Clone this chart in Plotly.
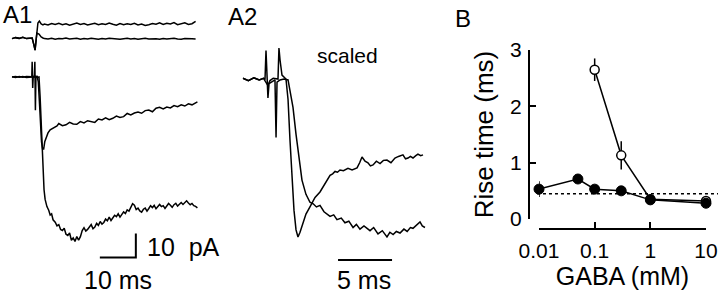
import plotly.graph_objects as go

W, H = 720, 298
FONT = "Liberation Sans, Arial, Helvetica, sans-serif"

# ---------------- Panel A1 (ms, pA) ----------------
a1_top_up_t = [0, 1, 2, 3, 4, 5, 5.6, 6.1, 6.4, 6.7, 6.9, 7.2, 7.6, 8.1, 8.6,
               9, 10, 11, 12, 13, 14, 15, 16, 17, 18, 19, 20, 21, 22, 23, 24, 25, 26, 27, 28, 29, 30,
               31, 32, 33, 34, 35, 36, 37, 38, 39, 40, 41, 42, 43, 44, 45, 46, 47, 48, 49, 50, 51]
a1_top_up_i = [16.0, 16.4, 16.1, 16.5, 16.0, 16.3, 16.2, 13.3, 11.2, 15.4, 19.6, 22.5, 23.3, 22.1, 21.7,
               22.1, 21.7, 22.3, 21.9, 22.4, 21.8, 22.2, 21.6, 22.0, 22.5, 21.9, 22.3, 21.7, 22.1, 22.4, 21.8,
               22.2, 21.9, 22.5, 22.0, 21.6, 22.3, 21.8, 22.2, 21.9, 22.4, 21.7, 22.1, 21.5, 21.8, 22.3, 22.0,
               22.6, 21.9, 22.4, 22.1, 22.7, 21.8, 22.3, 22.6, 21.9, 22.2, 23.2]
a1_top_lo_t = [0, 1, 2, 3, 4, 5, 5.6, 6.1, 6.4, 6.7, 6.9, 7.5, 8.1, 8.6,
               9, 10, 11, 12, 13, 14, 15, 16, 17, 18, 19, 20, 21, 22, 23, 24, 25, 26, 27, 28, 29, 30,
               31, 32, 33, 34, 35, 36, 37, 38, 39, 40, 41, 42, 43, 44, 45, 46, 47, 48, 49, 50, 51]
a1_top_lo_i = [16.0, 16.4, 16.1, 16.5, 16.0, 16.3, 16.2, 13.3, 11.2, 15.4, 18.3, 17.9, 16.7, 16.25,
               16.0, 15.8, 16.1, 15.7, 16.0, 15.9, 16.2, 15.8, 15.9, 16.1, 15.7, 16.0, 15.8, 16.1, 15.9,
               15.7, 16.0, 15.8, 16.1, 15.9, 16.0, 15.7, 15.9, 16.1, 15.8, 16.0, 15.7, 15.9, 16.1, 15.8,
               16.0, 15.9, 15.7, 16.0, 15.8, 15.9, 16.1, 15.8, 15.7, 16.0, 15.8, 15.9, 15.8]

a1_fast_t = [0, 1, 2, 3, 4, 5, 5.5, 5.6, 5.75, 5.9, 6.5, 7.0, 7.3, 7.6, 7.9, 8.2, 8.5, 8.8, 9.1, 9.5,
             10.0, 10.6, 11.4, 12.5, 13, 14, 15, 16, 17, 18, 19, 20, 21, 22, 23, 24, 25, 26, 27, 28,
             29, 30, 31, 32, 33, 34, 35, 36, 37, 38, 39, 40, 41, 42, 43, 44, 45, 46, 47, 48, 49, 50, 51, 51.5]
a1_fast_i = [0.1, -0.2, 0.2, -0.1, 0.2, 0.0, 0.1, 6.3, -4.6, 0.3, 0.0, 0.2, -2, -10, -20, -27, -30, -30,
             -27, -25, -23.3, -22, -21.3, -20.4,
             -19.4, -20.3, -19.9, -18.9, -19.6, -19.7, -18.6, -19.1, -18.2, -18.6, -18.9, -17.5, -17.9,
             -17.0, -17.8, -17.2, -16.3, -16.9, -16.5, -15.2, -15.8, -15.0, -14.6, -15.1, -14.0, -13.8,
             -14.5, -13.0, -12.6, -13.3, -12.5, -12.9, -11.9, -12.4, -11.6, -12.1, -11.2, -11.6, -10.9,
             -10.4]

a1_slow_t = [0, 1, 2, 3, 4, 5, 5.5, 6.2, 6.35, 6.5, 6.65, 7.0, 7.5, 7.8, 8.1, 8.3, 8.6, 8.9, 9.2, 9.7,
             10.2, 10.6, 11.0, 11.4, 12.0, 12.5, 13.0, 13.5, 14.0, 14.5, 15.0, 15.5, 16.0, 16.5, 17.0,
             17.5, 18.0, 18.5, 19, 19.5, 20, 20.5, 21, 21.5, 22, 22.5, 23, 23.5, 24, 24.5, 25, 25.5, 26,
             26.5, 27, 27.5, 28, 28.5, 29, 29.5, 30, 30.5, 31, 31.5, 32, 32.5, 33, 33.5, 34, 34.5, 35,
             35.5, 36, 36.5, 37, 37.5, 38, 38.5, 39, 39.5, 40, 40.5, 41, 41.5, 42, 42.5, 43, 43.5, 44,
             44.5, 45, 45.5, 46, 46.5, 47, 47.5, 48, 48.5, 49, 49.5, 50, 50.5, 51, 51.5]
a1_slow_i = [0.0, 0.2, -0.1, 0.2, -0.2, 0.1, 0.0, 0.1, 6.3, -13.8, 0.4, -0.2, 0.0, -8, -18, -28, -40,
             -47, -51, -54, -55.5, -57.5, -57, -59.5, -60.5, -62, -61.5, -63.5, -64, -63, -65.5, -66,
             -65, -68, -67, -68.5, -66.5, -68,
             -66.5, -64, -62.8, -64.2, -63.5, -62.2, -61.5, -63.2, -62.5, -61.0, -61.8, -60.2, -61.3,
             -60.6, -59.2, -59.9, -58.4, -59.8, -58.9, -57.6, -58.2, -57.0, -58.4, -57.3, -56.2, -56.9,
             -55.4, -55.9, -54.2, -52.8, -53.4, -55.2, -54.6, -55.8, -56.3, -55.1, -54.6, -55.9, -54.8,
             -53.6, -54.4, -53.5, -54.9, -54.2, -53.1, -54.0, -53.6, -54.8, -53.9, -52.7, -53.4, -54.3,
             -53.2, -52.6, -53.8, -52.9, -52.3, -53.1, -52.4, -51.6, -52.5, -53.2, -52.7, -53.6, -53.9,
             -54.5]

A1_BAR_MS, A1_BAR_PA = 10, 10

# ---------------- Panel A2 (ms, normalised) ----------------
a2_slow_t = [0, 0.5, 1.0, 1.5, 1.9, 2.04, 2.13, 2.22, 2.31, 2.41, 2.69, 2.96, 3.06, 3.15, 3.43, 3.8,
             4.17, 4.35, 4.63, 4.91, 5.19, 5.46, 5.83, 6.2, 6.5, 6.8, 7.13, 7.5, 8.06, 8.4, 8.7, 9.1,
             9.44, 9.8, 10.19, 10.5, 10.83, 11.2, 11.76, 12.1, 12.5, 12.9, 13.33, 13.6, 13.9, 14.2,
             14.54, 14.9, 15.2, 15.5, 15.74, 16.1, 16.39, 16.6, 16.85]
a2_slow_v = [0.005, -0.01, 0.008, -0.006, 0.004, 0.0, 0.18, 0.0, -0.12, -0.03, -0.015, -0.005, -0.37,
             -0.02, -0.006, 0.0, -0.006, -0.08, -0.18, -0.35, -0.51, -0.64, -0.73, -0.78, -0.79, -0.81,
             -0.80, -0.84, -0.87, -0.86, -0.89, -0.88, -0.91, -0.90, -0.94, -0.92, -0.95, -0.93, -0.96,
             -0.94, -0.98, -0.96, -1.0, -0.97, -0.985, -0.965, -0.975, -0.95, -0.965, -0.94, -0.945,
             -0.92, -0.905, -0.93, -0.94]
a2_fast_t = [0, 0.5, 1.0, 1.5, 1.9, 2.3, 2.5, 2.8, 3.24, 3.33, 3.43, 3.61, 3.98, 4.17, 4.35, 4.54,
             4.72, 4.91, 5.09, 5.28, 5.56, 5.83, 6.2, 6.67, 7.13, 7.59, 8.06, 8.3, 8.52, 8.75, 8.98,
             9.3, 9.72, 10.1, 10.56, 10.8, 11.02, 11.3, 11.57, 11.8, 12.04, 12.35, 12.69, 13.0, 13.33,
             13.7, 14.07, 14.4, 14.81, 15.05, 15.28, 15.5, 15.74, 16.0, 16.2, 16.45, 16.67]
a2_fast_v = [0.005, -0.01, 0.008, -0.006, 0.004, -0.04, -0.01, 0.005, 0.0, 0.196, 0.12, 0.025, 0.0,
             -0.13, -0.386, -0.64, -0.83, -0.955, -1.0, -0.97, -0.91, -0.855, -0.81, -0.75, -0.715,
             -0.66, -0.61, -0.60, -0.585, -0.59, -0.576, -0.58, -0.565, -0.575, -0.563, -0.53, -0.494,
             -0.52, -0.53, -0.55, -0.544, -0.52, -0.535, -0.515, -0.513, -0.53, -0.50, -0.49, -0.48,
             -0.505, -0.50, -0.49, -0.50, -0.485, -0.475, -0.485, -0.48]
A2_BAR_MS = 5

# ---------------- Panel B ----------------
gaba_filled = [0.01, 0.05, 0.1, 0.3, 1, 10]
rise_filled = [0.53, 0.71, 0.53, 0.50, 0.34, 0.28]
err_filled = [0.14, 0.05, 0.04, 0.04, 0.03, 0.05]
gaba_open = [0.1, 0.3, 1, 10]
rise_open = [2.65, 1.13, 0.35, 0.32]
err_open = [0.2, 0.25, 0.03, 0.06]
ref_x = [0.0092, 16.4]
ref_y = [0.45, 0.45]

for a, b in [(a1_top_up_t, a1_top_up_i), (a1_top_lo_t, a1_top_lo_i), (a1_fast_t, a1_fast_i),
             (a1_slow_t, a1_slow_i), (a2_slow_t, a2_slow_v), (a2_fast_t, a2_fast_v)]:
    assert len(a) == len(b), (len(a), len(b))


def px(x):
    return x / W


def py(y):
    return 1 - y / H


fig = go.Figure()
black = "black"
LW = 1.5

# A1 traces
for t, i in [(a1_top_up_t, a1_top_up_i), (a1_top_lo_t, a1_top_lo_i),
             (a1_fast_t, a1_fast_i), (a1_slow_t, a1_slow_i)]:
    fig.add_trace(go.Scatter(x=t, y=i, mode="lines", line=dict(color=black, width=LW),
                             xaxis="x2", yaxis="y2"))
# A1 scale bar (anchored at 24.4 ms, -75.2 pA)
b0t, b0i = 24.4, -75.2
fig.add_trace(go.Scatter(x=[b0t, b0t + A1_BAR_MS, b0t + A1_BAR_MS],
                         y=[b0i, b0i, b0i + A1_BAR_PA], mode="lines",
                         line=dict(color=black, width=2), xaxis="x2", yaxis="y2"))

# A2 traces
for t, v in [(a2_slow_t, a2_slow_v), (a2_fast_t, a2_fast_v)]:
    fig.add_trace(go.Scatter(x=t, y=v, mode="lines", line=dict(color=black, width=LW),
                             xaxis="x3", yaxis="y3"))
c0t, c0v = 8.8, -1.146
fig.add_trace(go.Scatter(x=[c0t, c0t + A2_BAR_MS], y=[c0v, c0v], mode="lines",
                         line=dict(color=black, width=2), xaxis="x3", yaxis="y3"))

# B
fig.add_trace(go.Scatter(x=ref_x, y=ref_y, mode="lines",
                         line=dict(color=black, width=1.5, dash="dot"),
                         xaxis="x4", yaxis="y4"))
fig.add_trace(go.Scatter(x=gaba_open, y=rise_open, mode="lines+markers",
                         line=dict(color=black, width=LW),
                         marker=dict(symbol="circle", size=9, color="white",
                                     line=dict(color=black, width=1.5)),
                         error_y=dict(type="data", array=err_open, width=0, thickness=1.5, color=black),
                         cliponaxis=False, xaxis="x", yaxis="y"))
fig.add_trace(go.Scatter(x=gaba_filled, y=rise_filled, mode="lines+markers",
                         line=dict(color=black, width=LW),
                         marker=dict(symbol="circle", size=10, color=black,
                                     line=dict(color=black, width=1)),
                         error_y=dict(type="data", array=err_filled, width=0, thickness=1.5, color=black),
                         cliponaxis=False, xaxis="x", yaxis="y"))

hidden = dict(visible=False, showgrid=False, zeroline=False, fixedrange=True, automargin=False)

fig.update_layout(
    width=W, height=H, autosize=False,
    margin=dict(l=0, r=0, t=0, b=0, pad=0, autoexpand=False),
    paper_bgcolor="white", plot_bgcolor="rgba(0,0,0,0)",
    showlegend=False,
    font=dict(family=FONT, color=black),
    xaxis=dict(type="log", range=[-2, 1], domain=[px(539), px(706)], anchor="free", position=py(229),
               showline=True, linewidth=2, linecolor=black, ticks="inside", ticklen=6, tickwidth=2,
               tickcolor=black, tickvals=[0.01, 0.1, 1, 10], ticktext=["0.01", "0.1", "1", "10"],
               showgrid=False, zeroline=False, tickfont=dict(size=21, family=FONT, color=black),
               ticklabelstandoff=3, automargin=False,
               title=dict(text="GABA (mM)", font=dict(size=25, family=FONT, color=black), standoff=4)),
    yaxis=dict(range=[0, 3], domain=[py(219), py(50)], anchor="free", position=px(529),
               showline=True, linewidth=2, linecolor=black, ticks="inside", ticklen=6, tickwidth=2,
               tickcolor=black, tickvals=[0, 1, 2, 3], showgrid=False, zeroline=False,
               tickfont=dict(size=21, family=FONT, color=black), ticklabelstandoff=2, automargin=False,
               title=dict(text="Rise time (ms)", font=dict(size=26, family=FONT, color=black), standoff=8)),
    xaxis2=dict(hidden, domain=[0, px(215)], range=[-12 / 3.6, (215 - 12) / 3.6], anchor="y2"),
    yaxis2=dict(hidden, domain=[0, 1], range=[(77 - 298) / 2.4, 77 / 2.4], anchor="x2"),
    xaxis3=dict(hidden, domain=[px(215), px(450)], range=[(215 - 243) / 10.8, (450 - 243) / 10.8], anchor="y3"),
    yaxis3=dict(hidden, domain=[0, 1], range=[(79 - 298) / 158, 79 / 158], anchor="x3"),
    xaxis4=dict(hidden, type="log", domain=[px(529), 1],
                range=[-2 - 10 / 55.67, -2 + 181 / 55.67], anchor="y4"),
    yaxis4=dict(hidden, domain=[py(219), py(50)], range=[0, 3], anchor="x4"),
)


def label(text, x, y, size, xanchor="left"):
    fig.add_annotation(text=text, x=px(x), y=py(y), xref="paper", yref="paper",
                       xanchor=xanchor, yanchor="middle", showarrow=False,
                       font=dict(size=size, family=FONT, color=black))


label("A1", 1, 15, 24)
label("A2", 226, 17, 24)
label("B", 453, 18, 24)
label("scaled", 347.5, 55, 21, "center")
label("10  pA", 145, 247, 25)
label("10 ms", 118, 280, 25, "center")
label("5 ms", 364, 280, 25, "center")

fig.write_html("out.html", config={"displayModeBar": False},
               post_script="document.body.style.margin='0';document.body.style.padding='0';"
                           "document.body.style.overflow='hidden';")
